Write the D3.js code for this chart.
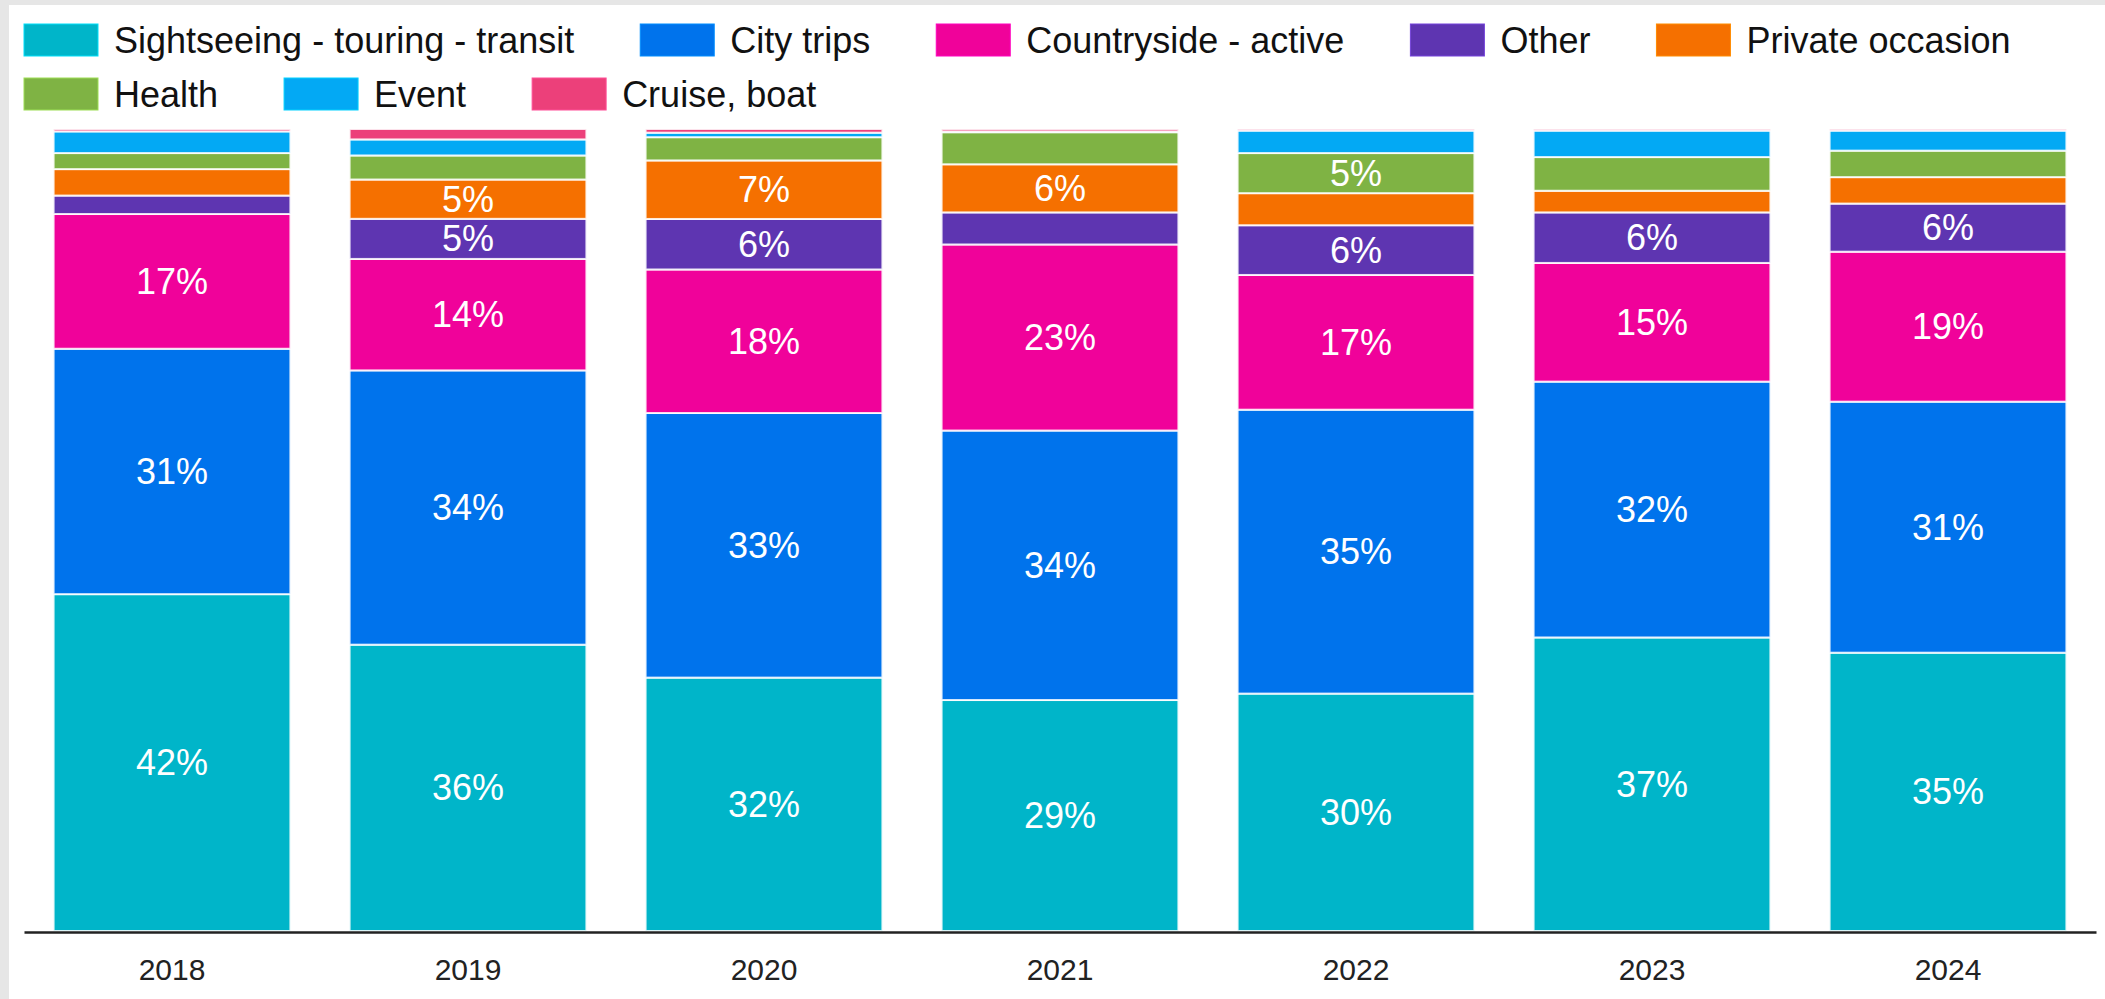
<!DOCTYPE html>
<html>
<head>
<meta charset="utf-8">
<script src="https://cdn.jsdelivr.net/npm/d3@7"></script>
<style>
  body { margin: 0; background: #e6e6e6; }
  svg { display: block; font-family: "Liberation Sans", Arial, sans-serif; }
</style>
</head>
<body>
<div id="viz"></div>
<script>
const WIDTH = 2105, HEIGHT = 999;

// years on the x axis
const years = ["2018", "2019", "2020", "2021", "2022", "2023", "2024"];

// share of trips per purpose (%), bottom to top
const sightseeing = [42.0, 35.7, 31.6, 28.8, 29.6, 36.6, 34.7];
const cityTrips   = [30.6, 34.2, 33.0, 33.6, 35.4, 31.9, 31.3];
const countryside = [16.8, 13.9, 17.9, 23.2, 16.8, 14.8, 18.7];
const other       = [2.3, 5.0, 6.3, 4.0, 6.2, 6.3, 6.0];
const privateOcc  = [3.3, 4.9, 7.3, 6.0, 4.0, 2.7, 3.3];
const health      = [2.0, 3.0, 2.9, 4.0, 5.0, 4.2, 3.3];
const eventTrips  = [2.7, 2.0, 0.56, 0.1, 2.8, 3.3, 2.5];
const cruise      = [0.3, 1.3, 0.46, 0.3, 0.2, 0.2, 0.2];

const seriesNames = ["Sightseeing - touring - transit", "City trips", "Countryside - active",
  "Other", "Private occasion", "Health", "Event", "Cruise, boat"];
const seriesValues = [sightseeing, cityTrips, countryside, other, privateOcc, health, eventTrips, cruise];
const seriesColors = ["#00b5c9", "#0073ec", "#f0029a", "#5e35b1", "#f57000", "#7fb344", "#03a9f4", "#ec407a"];

// one row per year for d3.stack
const rows = years.map((y, i) => {
  const r = { year: y };
  seriesNames.forEach((s, k) => r[s] = seriesValues[k][i]);
  return r;
});

const svg = d3.select("#viz").append("svg")
  .attr("width", WIDTH)
  .attr("height", HEIGHT);

// grey frame with white panel
svg.append("rect").attr("width", WIDTH).attr("height", HEIGHT).attr("fill", "#e6e6e6");
svg.append("rect").attr("x", 9).attr("y", 5).attr("width", WIDTH - 9).attr("height", HEIGHT - 5).attr("fill", "#fff");

const x = d3.scaleBand()
  .domain(years)
  .range([24, 2096])
  .paddingInner(0.2)
  .paddingOuter(0.1);

const y = d3.scaleLinear()
  .domain([0, 1])
  .range([931, 129]);

const color = d3.scaleOrdinal().domain(seriesNames).range(seriesColors);

const stacked = d3.stack()
  .keys(seriesNames)
  .offset(d3.stackOffsetExpand)(rows);

const layers = svg.append("g")
  .selectAll("g")
  .data(stacked)
  .join("g")
  .attr("fill", d => color(d.key));

layers.selectAll("rect")
  .data(d => d)
  .join("rect")
  .attr("x", d => x(d.data.year))
  .attr("width", x.bandwidth())
  .attr("y", d => y(d[1]))
  .attr("height", d => Math.max(0, y(d[0]) - y(d[1])))
  .attr("stroke", "#fff")
  .attr("stroke-opacity", 0.85)
  .attr("stroke-width", 2);

// value labels on the bigger segments
stacked.forEach(layer => {
  svg.append("g")
    .selectAll("text")
    .data(layer.filter(d => d.data[layer.key] >= 4.5))
    .join("text")
    .attr("x", d => x(d.data.year) + x.bandwidth() / 2)
    .attr("y", d => (y(d[0]) + y(d[1])) / 2)
    .attr("text-anchor", "middle")
    .attr("dominant-baseline", "central")
    .attr("fill", "#fff")
    .style("font-size", "36px")
    .text(d => Math.round(d.data[layer.key]) + "%");
});

// x axis
const xAxis = svg.append("g")
  .attr("transform", `translate(0,932)`)
  .call(d3.axisBottom(x).tickSize(0).tickPadding(27));
xAxis.select(".domain").attr("stroke", "#222").attr("stroke-width", 2.5);
xAxis.selectAll("text")
  .attr("fill", "#222")
  .style("font-size", "30px")
  .style("font-family", "'Liberation Sans', Arial, sans-serif");

// legend, two rows
const legendRows = [seriesNames.slice(0, 5), seriesNames.slice(5)];
legendRows.forEach((names, r) => {
  let lx = 24;
  const ly = 40 + r * 54;
  names.forEach(name => {
    const g = svg.append("g").attr("transform", `translate(${lx},${ly})`);
    g.append("rect")
      .attr("x", 0)
      .attr("y", -16)
      .attr("width", 74)
      .attr("height", 32)
      .attr("fill", color(name))
      .attr("stroke", d3.color(color(name)).brighter(0.6))
      .attr("stroke-width", 1);
    const t = g.append("text")
      .attr("x", 90)
      .attr("y", 0)
      .attr("dominant-baseline", "central")
      .attr("fill", "#111")
      .style("font-size", "36px")
      .text(name);
    lx += 90 + t.node().getComputedTextLength() + 66;
  });
});
</script>
</body>
</html>
